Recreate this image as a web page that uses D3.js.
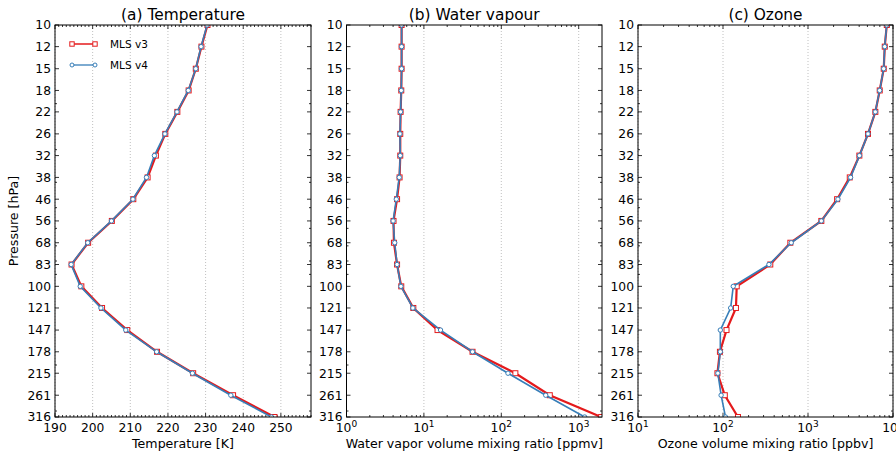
<!DOCTYPE html>
<html>
<head>
<meta charset="utf-8">
<script src="https://cdn.jsdelivr.net/npm/d3@7"></script>
<style>
  body { margin: 0; background: #fff; }
  svg { font-family: "DejaVu Sans", sans-serif; }
</style>
</head>
<body>
<svg id="chart" width="896" height="456"></svg>
<script>
// pressure levels (hPa) and the labels shown on the axis
var levels = [10, 12.1, 14.7, 17.8, 21.5, 26.1, 31.6, 38.3, 46.4, 56.2, 68.1, 82.5, 100, 121, 147, 178, 215, 261, 316.2];
var levelLabels = ["10", "12", "15", "18", "22", "26", "32", "38", "46", "56", "68", "83", "100", "121", "147", "178", "215", "261", "316"];

// (a) temperature [K]
var tempV3 = [230.5, 228.9, 227.4, 225.5, 222.5, 219.3, 216.8, 214.6, 210.8, 205.1, 198.8, 194.4, 197.0, 202.5, 209.2, 217.1, 226.7, 237.3, 248.3];
var tempV4 = [230.4, 228.8, 227.4, 225.4, 222.4, 219.2, 216.4, 214.3, 210.7, 205.0, 198.7, 194.3, 196.7, 202.2, 208.8, 217.0, 226.5, 236.7, 247.5];
var tempTicks = [190, 200, 210, 220, 230, 240, 250];

// (b) water vapour [ppmv]
var h2oV3 = [5.15, 5.15, 5.15, 5.1, 5.0, 4.95, 4.95, 4.85, 4.5, 4.05, 4.1, 4.5, 5.1, 7.3, 15.0, 42.5, 152, 423, 1950];
var h2oV4 = [5.15, 5.15, 5.15, 5.1, 5.0, 4.9, 4.95, 4.8, 4.4, 4.0, 4.2, 4.5, 5.05, 7.2, 16.4, 42.5, 122, 375, 1195];
var h2oTicks = [1, 10, 100, 1000];

// (c) ozone [ppbv]
var o3V3 = [8450, 8000, 7780, 6980, 6200, 5080, 4020, 3100, 2200, 1435, 620, 360, 145, 142, 110, 92, 86, 105, 150];
var o3V4 = [8430, 7990, 7770, 6970, 6190, 5080, 4030, 3170, 2250, 1435, 635, 347, 132, 123, 93, 93, 87, 95, 107];
var o3Ticks = [10, 100, 1000, 10000];

var red = "#e41a1c", blue = "#377eb8";
var svg = d3.select("#chart");
var yTop = 25, yBot = 417;

var y = d3.scaleLog().domain([10, 316.2]).range([yTop, yBot]);

function drawPanel(p) {
  var g = svg.append("g");
  var x = p.log ? d3.scaleLog() : d3.scaleLinear();
  x.domain(p.domain).range([p.x0, p.x1]);

  // vertical dotted grid
  g.selectAll(".grid").data(p.ticks).enter().append("line")
    .attr("x1", function(d) { return x(d); }).attr("x2", function(d) { return x(d); })
    .attr("y1", yTop).attr("y2", yBot)
    .attr("stroke", "#b0b0b0").attr("stroke-width", 0.8).attr("stroke-dasharray", "1,2");

  // minor x ticks top/bottom
  var minor = [];
  if (p.log) {
    for (var e = Math.log10(p.domain[0]); e < 5; e++) {
      for (var m = 2; m < 10; m++) {
        var v = m * Math.pow(10, e);
        if (v < p.domain[1]) minor.push(v);
      }
    }
  } else {
    for (var t = p.domain[0]; t <= p.domain[1]; t++) if (t % 10 != 0) minor.push(t);
  }
  [yTop, yBot].forEach(function(yy) {
    var dir = yy == yTop ? 1 : -1;
    g.selectAll(null).data(minor).enter().append("line")
      .attr("x1", function(d) { return x(d); }).attr("x2", function(d) { return x(d); })
      .attr("y1", yy).attr("y2", yy + dir * 2).attr("stroke", "#000").attr("stroke-width", 0.8);
    g.selectAll(null).data(p.ticks).enter().append("line")
      .attr("x1", function(d) { return x(d); }).attr("x2", function(d) { return x(d); })
      .attr("y1", yy).attr("y2", yy + dir * 4).attr("stroke", "#000").attr("stroke-width", 0.8);
  });

  // y ticks left and right (inside)
  var yMinor = [20, 30, 40, 50, 60, 70, 80, 90, 200, 300];
  [[p.x0, 1], [p.x1, -1]].forEach(function(s) {
    g.selectAll(null).data(levels).enter().append("line")
      .attr("y1", function(d) { return y(d); }).attr("y2", function(d) { return y(d); })
      .attr("x1", s[0]).attr("x2", s[0] + s[1] * 4).attr("stroke", "#000").attr("stroke-width", 0.8);
    g.selectAll(null).data(yMinor).enter().append("line")
      .attr("y1", function(d) { return y(d); }).attr("y2", function(d) { return y(d); })
      .attr("x1", s[0]).attr("x2", s[0] + s[1] * 2).attr("stroke", "#000").attr("stroke-width", 0.8);
  });

  // y tick labels
  g.selectAll(".ylab").data(levels).enter().append("text")
    .attr("x", p.x0 - 4).attr("y", function(d) { return y(d); }).attr("dy", "0.36em")
    .attr("text-anchor", "end").attr("font-size", 12.3)
    .text(function(d, i) { return levelLabels[i]; });

  // x tick labels
  var xl = g.selectAll(".xlab").data(p.ticks).enter().append("text")
    .attr("x", function(d) { return x(d); }).attr("y", yBot + 15)
    .attr("text-anchor", "middle").attr("font-size", 12.3);
  if (p.log) {
    xl.text("10").append("tspan").attr("dy", -5).attr("font-size", 9)
      .text(function(d) { return Math.round(Math.log10(d)); });
  } else {
    xl.text(function(d) { return d; });
  }

  // x axis title and panel title
  g.append("text").attr("x", (p.x0 + p.x1) / 2).attr("y", yBot + 31)
    .attr("text-anchor", "middle").attr("font-size", 12.6).text(p.xlabel);
  g.append("text").attr("x", (p.x0 + p.x1) / 2).attr("y", yTop - 5)
    .attr("text-anchor", "middle").attr("font-size", 15.4).text(p.title);

  // lines, clipped to the axes box
  var clipId = "clip" + p.id;
  svg.append("clipPath").attr("id", clipId).append("rect")
    .attr("x", p.x0).attr("y", yTop).attr("width", p.x1 - p.x0).attr("height", yBot - yTop);
  var lg = g.append("g").attr("clip-path", "url(#" + clipId + ")");
  var line = d3.line().x(function(d) { return x(d[0]); }).y(function(d) { return y(d[1]); });

  var d3v = p.v3.map(function(v, i) { return [v, levels[i]]; });
  var d4v = p.v4.map(function(v, i) { return [v, levels[i]]; });

  lg.append("path").datum(d3v).attr("d", line).attr("fill", "none").attr("stroke", red).attr("stroke-width", 2.2);
  lg.selectAll(".sq").data(d3v).enter().append("rect")
    .attr("x", function(d) { return x(d[0]) - 2.5; }).attr("y", function(d) { return y(d[1]) - 2.5; })
    .attr("width", 5).attr("height", 5).attr("fill", "#fff").attr("stroke", red).attr("stroke-width", 1);
  lg.append("path").datum(d4v).attr("d", line).attr("fill", "none").attr("stroke", blue).attr("stroke-width", 1.6);
  lg.selectAll(".ci").data(d4v).enter().append("circle")
    .attr("cx", function(d) { return x(d[0]); }).attr("cy", function(d) { return y(d[1]); })
    .attr("r", 2.2).attr("fill", "#fff").attr("stroke", blue).attr("stroke-width", 1);

  // frame
  g.append("rect").attr("x", p.x0).attr("y", yTop).attr("width", p.x1 - p.x0).attr("height", yBot - yTop)
    .attr("fill", "none").attr("stroke", "#000").attr("stroke-width", 1);
}

drawPanel({ id: "a", x0: 55, x1: 311, domain: [190, 258], ticks: tempTicks, log: false,
  v3: tempV3, v4: tempV4, title: "(a) Temperature", xlabel: "Temperature [K]" });
drawPanel({ id: "b", x0: 346.5, x1: 602, domain: [1, 2000], ticks: h2oTicks, log: true,
  v3: h2oV3, v4: h2oV4, title: "(b) Water vapour", xlabel: "Water vapor volume mixing ratio [ppmv]" });
drawPanel({ id: "c", x0: 638, x1: 893, domain: [10, 10000], ticks: o3Ticks, log: true,
  v3: o3V3, v4: o3V4, title: "(c) Ozone", xlabel: "Ozone volume mixing ratio [ppbv]" });

// y axis title
svg.append("text").attr("transform", "translate(18," + (yTop + yBot) / 2 + ") rotate(-90)")
  .attr("text-anchor", "middle").attr("font-size", 12.6).text("Pressure [hPa]");

// legend
var legend = [{ name: "MLS v3", color: red, shape: "sq" }, { name: "MLS v4", color: blue, shape: "ci" }];
var lgd = svg.append("g").selectAll("g").data(legend).enter().append("g")
  .attr("transform", function(d, i) { return "translate(72," + (44 + i * 21) + ")"; });
lgd.append("line").attr("x1", 0).attr("x2", 23).attr("stroke", function(d) { return d.color; })
  .attr("stroke-width", function(d) { return d.shape == "sq" ? 1.5 : 1.3; });
lgd.each(function(d) {
  var s = d3.select(this);
  [0, 23].forEach(function(px) {
    if (d.shape == "sq") {
      s.append("rect").attr("x", px - 2.2).attr("y", -2.2).attr("width", 4.4).attr("height", 4.4)
        .attr("fill", "#fff").attr("stroke", d.color);
    } else {
      s.append("circle").attr("cx", px).attr("r", 2).attr("fill", "#fff").attr("stroke", d.color);
    }
  });
});
lgd.append("text").attr("x", 38).attr("dy", "0.35em").attr("font-size", 10.5).text(function(d) { return d.name; });
</script>
</body>
</html>
